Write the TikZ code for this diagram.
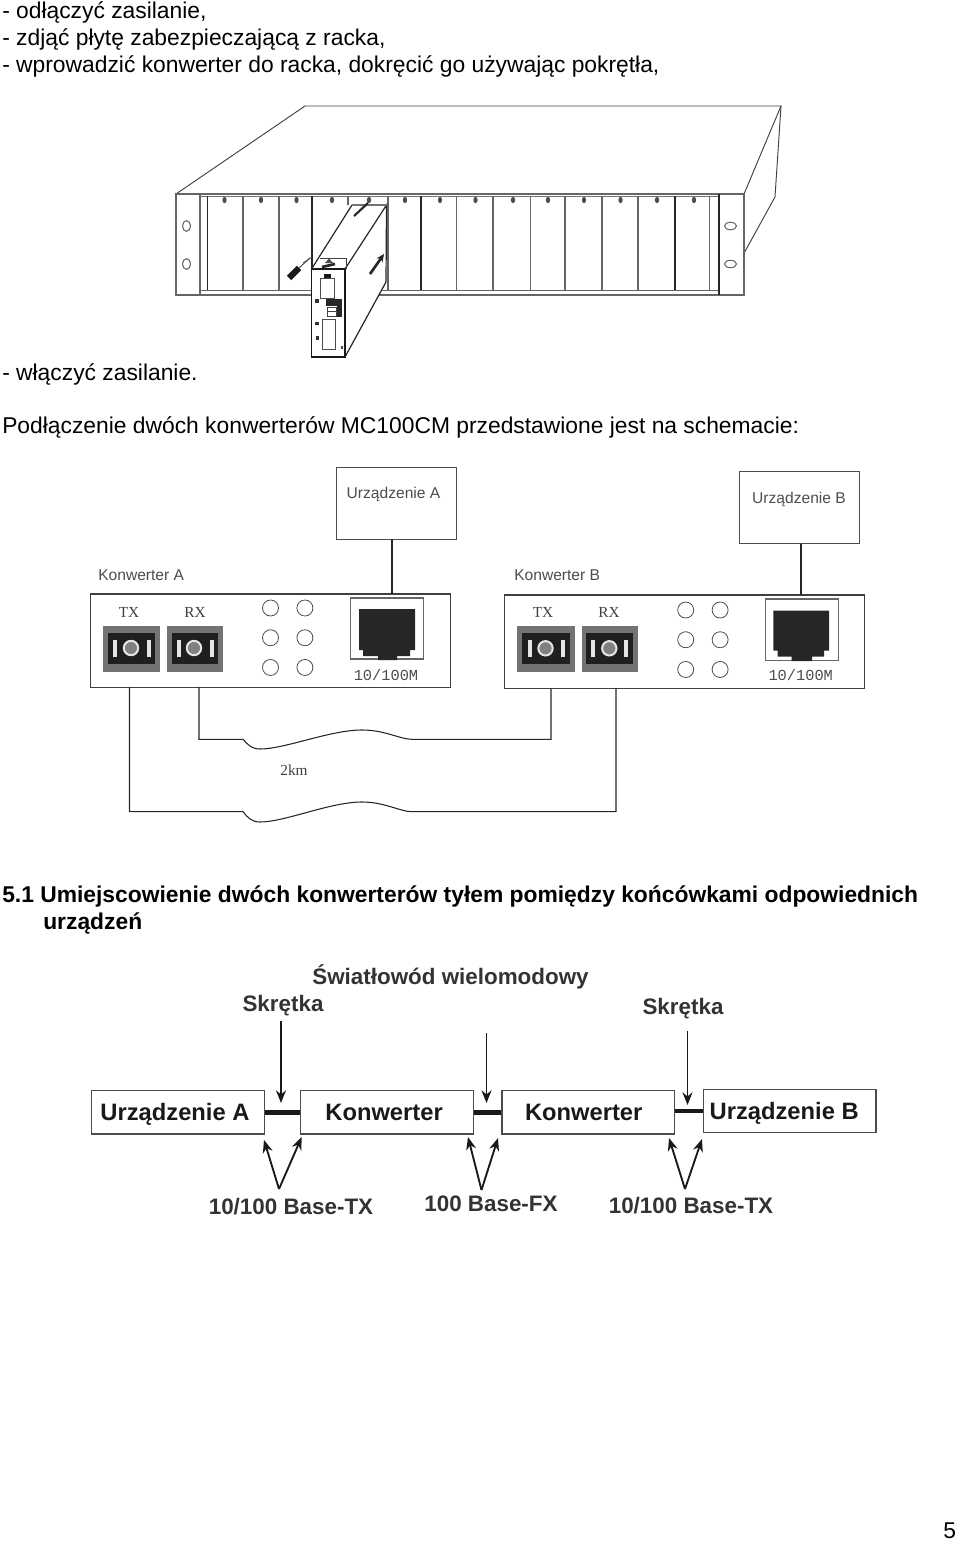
\documentclass[tikz,border=0pt]{standalone}
\usepackage{fontspec}
\setmainfont{Liberation Sans}
\newfontfamily\serifbit{Liberation Serif}
\newfontfamily\monobit{Liberation Mono}
\usetikzlibrary{positioning, arrows.meta, shapes.geometric}

\begin{document}
\begin{tikzpicture}[
    x=0.75pt, y=-0.75pt,
    bodytxt/.style={anchor=base west, inner sep=0pt, font=\fontsize{17.12}{20}\selectfont},
    boldtxt/.style={anchor=base west, inner sep=0pt, font=\fontsize{17.12}{20}\selectfont\bfseries},
    rackline/.style={draw=black!75, line width=0.7pt},
    slotthin/.style={draw=black!60, line width=0.8pt},
    slotdark/.style={draw=black!85, line width=1.3pt},
    devbox/.style={rectangle, draw=black!70, line width=0.7pt, minimum width=89.5pt, minimum height=54pt, inner sep=0pt},
    devtxt/.style={inner sep=0pt, text=black!70, font=\fontsize{11.7}{13}\selectfont},
    panel/.style={rectangle, draw=black!75, line width=1pt, minimum width=270pt, minimum height=70pt, inner sep=0pt},
    portlbl/.style={inner sep=0pt, text=black!75, font=\serifbit\fontsize{11.5}{14}\selectfont},
    ledlamp/.style={circle, draw=black!70, line width=0.6pt, minimum size=12pt, inner sep=0pt},
    wire/.style={draw=black!85, line width=0.8pt},
    unitbox/.style={rectangle, draw=black!70, line width=1pt, minimum width=129.5pt, minimum height=32.5pt, inner sep=0pt, text height=12.6pt, text depth=0pt, text=black!90, font=\fontsize{17.8}{20}\selectfont\bfseries},
    tagtxt/.style={inner sep=0pt, text=black!80, font=\fontsize{16.8}{20}\selectfont\bfseries},
    link/.style={line width=3.6pt, black!90},
    arrow/.style={-{Stealth[length=9.5pt, width=7.5pt]}, line width=1.4pt, black!90},
]
\useasboundingbox (0,0) rectangle (960,1541);

% ========== TEXT ==========
\node[bodytxt] (l1) at (2,19) {- odłączyć zasilanie,};
\node[bodytxt] (l2) at (2,46) {- zdjąć płytę zabezpieczającą z racka,};
\node[bodytxt] (l3) at (2,72.5) {- wprowadzić konwerter do racka, dokręcić go używając pokrętła,};
\node[bodytxt] (l4) at (2,380) {- włączyć zasilanie.};
\node[bodytxt] (l5) at (2,433) {Podłączenie dwóch konwerterów MC100CM przedstawione jest na schemacie:};
\node[boldtxt] (l6) at (2,902) {5.1 Umiejscowienie dwóch konwerterów tyłem pomiędzy końcówkami odpowiednich};
\node[boldtxt] (l7) at (43,929) {urządzeń};
\node[bodytxt] (pg) at (943,1538) {5};

% ========== RACK ==========
% Outline
\draw[rackline] (176,194) -- (305,106) -- (781,106) -- (744,194);
\draw[rackline] (781,106) -- (775,197) -- (743,255);
\draw[draw=black!60, line width=0.9pt] (176,194) rectangle (744,295);
\draw[draw=black!55, line width=0.7pt] (200,196) -- (719,196);
\draw[draw=black!60, line width=0.7pt] (200,290) -- (719,290);
\draw[slotthin] (200,194) -- (200,295);
\draw[slotdark] (719,194) -- (719,295);

% Slots
\draw[slotdark] (207.5,196) -- (207.5,290);
\draw[slotthin] (243,196) -- (243,290);
\draw[slotthin] (279,196) -- (279,290);
\draw[slotdark] (312,196) -- (312,290);
\draw[slotthin] (348,196) -- (348,205);
\draw[slotthin] (388,196) -- (388,290);
\draw[slotdark] (421,196) -- (421,290);
\draw[slotthin] (456.5,196) -- (456.5,290);
\draw[slotthin] (493,196) -- (493,290);
\draw[slotthin] (530.5,196) -- (530.5,290);
\draw[slotthin] (565,196) -- (565,290);
\draw[slotthin] (602,196) -- (602,290);
\draw[slotthin] (638,196) -- (638,290);
\draw[slotdark] (675,196) -- (675,290);
\draw[slotthin] (709.5,196) -- (709.5,290);

% Screws
\fill[black!70] (224.5,200) ellipse (1.6pt and 2.4pt);
\fill[black!70] (261,200) ellipse (1.6pt and 2.4pt);
\fill[black!70] (296.5,200) ellipse (1.6pt and 2.4pt);
\fill[black!70] (332,200) ellipse (1.6pt and 2.4pt);
\fill[black!70] (369,200) ellipse (1.6pt and 2.4pt);
\fill[black!70] (405,200) ellipse (1.6pt and 2.4pt);
\fill[black!70] (440,200) ellipse (1.6pt and 2.4pt);
\fill[black!70] (475.5,200) ellipse (1.6pt and 2.4pt);
\fill[black!70] (513,200) ellipse (1.6pt and 2.4pt);
\fill[black!70] (548,200) ellipse (1.6pt and 2.4pt);
\fill[black!70] (584,200) ellipse (1.6pt and 2.4pt);
\fill[black!70] (620.5,200) ellipse (1.6pt and 2.4pt);
\fill[black!70] (657,200) ellipse (1.6pt and 2.4pt);
\fill[black!70] (694,200) ellipse (1.6pt and 2.4pt);

% Ear holes
\draw[slotthin] (186.5,226) ellipse (3pt and 4pt);
\draw[slotthin] (186.5,264) ellipse (3pt and 4pt);
\draw[slotthin] (730.5,226) ellipse (4.5pt and 2.8pt);
\draw[slotthin] (730.5,264) ellipse (4.5pt and 2.8pt);

% Pulled out converter
\fill[white] (311.5,269) -- (352,205) -- (386.5,205) -- (386,282) -- (345,357) -- (311.5,357) -- cycle;
\draw[line width=0.9pt, black!85] (311.5,269) -- (352,205);
\draw[line width=0.9pt, black!85] (345,269) -- (386.5,205) -- (386,282) -- (345,357);
\draw[line width=2.2pt, black!55] (352,205) -- (386.5,205);
\draw[line width=1.3pt, black!90] (311.5,269) rectangle (345,357);
\draw[line width=0.7pt, black!75] (320,258) -- (346,258) -- (346,269);
\draw[line width=0.6pt, black!70] (320,278) rectangle (334,298);
\draw[line width=0.6pt, black!70] (322,319) rectangle (335,349);
\fill[black!90] (324,273.5) rectangle (330.5,277.5);
\fill[black!85] (326,299) rectangle (342,306);
\fill[black!85] (337,306) rectangle (342,317);
\fill[black!80] (315,299) rectangle (319,303);
\fill[black!80] (315,322) rectangle (319,325);
\fill[black!80] (316,336) rectangle (319,340);
\fill[black!70] (341,346) rectangle (342.5,349);
\draw[line width=0.6pt, black!75] (327,307) rectangle (336,316);
\draw[line width=0.6pt, black!75] (327,311.5) -- (336,311.5);

% Tools and arrows
\draw[line width=4.6pt, black!90] (289,278) -- (299,268);
\draw[line width=0.7pt, black!70] (299,268) -- (310,258);
\draw[line width=0.7pt, black!70] (303,263) -- (312,257);
\draw[-{Stealth[length=6pt, width=5.5pt]}, line width=2pt, black!85] (370,274) -- (384,254);
\draw[line width=1.6pt, black!85] (354,216) -- (368,203);
\draw[line width=2pt, black!85] (322,267) -- (335,264);
\fill[black!70] (325,263) -- (329,258.5) -- (333,263) -- cycle;

% ========== DEVICES ==========
\node[devbox] (deva) at (396.5,503) {};
\node[devtxt] (devalbl) at (393.5,494) {Urządzenie A};
\node[devbox] (devb) at (799.5,507.5) {};
\node[devtxt] (devblbl) at (799,499) {Urządzenie B};

% ========== KONWERTER A ==========
\node[panel] (pana) at (270.5,640.5) {};
\node[devtxt, anchor=west] (panalbl) at (98,575) {Konwerter A};
\node[portlbl] (txa) at (129,612) {TX};
\node[portlbl] (rxa) at (195,612) {RX};

% Ports
\fill[black!55] (103,626) rectangle (160,672);
\fill[black!55] (167,626) rectangle (223,672);
\fill[black!88] (108,633) rectangle (155,664);
\fill[black!88] (172,633) rectangle (218,664);
\fill[black!10] (113,640) rectangle (116.5,657);
\fill[black!10] (147,640) rectangle (151,657);
\fill[black!10] (177,640) rectangle (181,657);
\fill[black!10] (210,640) rectangle (214,657);
\draw[draw=black!10, fill=black!50, line width=1.5pt] (131,648) circle (5.4pt);
\draw[draw=black!10, fill=black!50, line width=1.5pt] (194,648) circle (5.4pt);

% Lamps
\node[ledlamp] (la1) at (270.5,608) {};
\node[ledlamp, right=13.2pt of la1] (la2) {};
\node[ledlamp, below=9.7pt of la1] (la3) {};
\node[ledlamp, right=13.2pt of la3] (la4) {};
\node[ledlamp, below=9.7pt of la3] (la5) {};
\node[ledlamp, right=13.2pt of la5] (la6) {};

% Jack
\draw[draw=black!60, line width=0.8pt] (350.5,598) rectangle (423.5,659);
\fill[black!85] (359,609) -- (415,609) -- (415,650) -- (410,650) -- (410,656) -- (397,656) -- (397,660) -- (378,660) -- (378,656) -- (363,656) -- (363,650) -- (359,650) -- cycle;
\node[inner sep=0pt, text=black!70, font=\monobit\fontsize{11.5}{13}\selectfont] (jacka) at (386,675) {10/100M};

% ========== KONWERTER B ==========
\node[panel] (panb) at (684.8,641.5) {};
\node[devtxt, anchor=west] (panblbl) at (514,575) {Konwerter B};
\node[portlbl] (txb) at (543,612) {TX};
\node[portlbl] (rxb) at (609,612) {RX};

% Ports
\fill[black!55] (517,626) rectangle (575,672);
\fill[black!55] (581.5,626) rectangle (638,672);
\fill[black!88] (522,633) rectangle (570,664);
\fill[black!88] (586,633) rectangle (633,664);
\fill[black!10] (527.5,639.5) rectangle (531.5,657);
\fill[black!10] (561,639.5) rectangle (565,657);
\fill[black!10] (591,639.5) rectangle (595,657);
\fill[black!10] (624,639.5) rectangle (628,657);
\draw[draw=black!10, fill=black!50, line width=1.5pt] (545.5,648.3) circle (5.4pt);
\draw[draw=black!10, fill=black!50, line width=1.5pt] (609.3,648.3) circle (5.4pt);

% Lamps
\node[ledlamp] (lb1) at (685.7,610) {};
\node[ledlamp, right=13.2pt of lb1] (lb2) {};
\node[ledlamp, below=9.7pt of lb1] (lb3) {};
\node[ledlamp, right=13.2pt of lb3] (lb4) {};
\node[ledlamp, below=9.7pt of lb3] (lb5) {};
\node[ledlamp, right=13.2pt of lb5] (lb6) {};

% Jack
\draw[draw=black!60, line width=0.8pt] (765.7,599) rectangle (838.3,660.7);
\fill[black!85] (773.3,610.7) -- (829,610.7) -- (829,650.7) -- (824,650.7) -- (824,656.7) -- (812,656.7) -- (812,661) -- (791.7,661) -- (791.7,656.7) -- (777.5,656.7) -- (777.5,650.7) -- (773.3,650.7) -- cycle;
\node[inner sep=0pt, text=black!70, font=\monobit\fontsize{11.5}{13}\selectfont] (jackb) at (800.7,675) {10/100M};

% ========== WIRES ==========
\coordinate (feeda) at (392,594);
\coordinate (feedb) at (801,595);
\coordinate (tailtxa) at (129.5,687);
\coordinate (tailrxa) at (199,687);
\coordinate (tailtxb) at (551,688);
\coordinate (tailrxb) at (616,688);

\draw[wire] (deva.south -| feeda) -- (feeda);
\draw[wire] (devb.south -| feedb) -- (feedb);

% Fibres
\draw[wire] (tailrxa) -- (199,739.3) -- (243,739.3) .. controls (248,745) and (252,749) .. (260,749) .. controls (285,749) and (330,730) .. (362,730) .. controls (385,730) and (400,739.3) .. (412,739.3) -- (551,739.3) -- (tailtxb);
\draw[wire] (tailtxa) -- (129.5,811.7) -- (243,811.7) .. controls (248,818) and (252,822) .. (260,822) .. controls (285,822) and (330,802) .. (362,802) .. controls (385,802) and (400,811.7) .. (412,811.7) -- (616,811.7) -- (tailrxb);
\node[portlbl] (dist) at (294,770) {2km};

% ========== LOWER SCHEME ==========
\node[unitbox] (ua) at (178,1112.3) {Urządzenie A\kern4.5pt};
\node[unitbox, right=26.3pt of ua] (ka) {Konwerter\kern4.5pt};
\node[unitbox, right=20.5pt of ka] (kb) {Konwerter\kern7pt};
\node[unitbox] (ub) at (789.5,1111) {Urządzenie B\kern8pt};

% Labels
\node[tagtxt] (fiber) at (450.5,976.5) {Światłowód wielomodowy};
\node[tagtxt] (twa) at (283,1006) {Skrętka};
\node[tagtxt] (twb) at (683,1009) {Skrętka};
\node[tagtxt] (basea) at (291,1207) {10/100 Base-TX};
\node[tagtxt] (basef) at (491,1204) {100 Base-FX};
\node[tagtxt] (baseb) at (691,1206) {10/100 Base-TX};

% Links
\draw[link] (ua) -- (ka);
\draw[link] (ka) -- (kb);
\draw[link] (kb.east |- ub) -- (ub);

% Arrows from above
\coordinate (hita) at (281,1103);
\coordinate (hitb) at (486.5,1103);
\coordinate (hitc) at (687.5,1105);
\draw[arrow] (281,1021) coordinate (froma) -- (hita);
\draw[arrow] (486.5,1033) coordinate (fromb) -- (hitb);
\draw[arrow] (687.5,1031) coordinate (fromc) -- (hitc);

% V arrows
\coordinate (apexa) at (279,1189);
\coordinate (apexb) at (481.5,1190);
\coordinate (apexc) at (685,1189);
\coordinate (tipa) at (264,1140);
\coordinate (tipb) at (301.7,1137);
\coordinate (tipc) at (468,1137);
\coordinate (tipd) at (498,1138);
\coordinate (tipe) at (669,1138);
\coordinate (tipf) at (702,1139);
\draw[arrow] (apexa) -- (tipa);
\draw[arrow] (apexa) -- (tipb);
\draw[arrow] (apexb) -- (tipc);
\draw[arrow] (apexb) -- (tipd);
\draw[arrow] (apexc) -- (tipe);
\draw[arrow] (apexc) -- (tipf);

\end{tikzpicture}
\end{document}
